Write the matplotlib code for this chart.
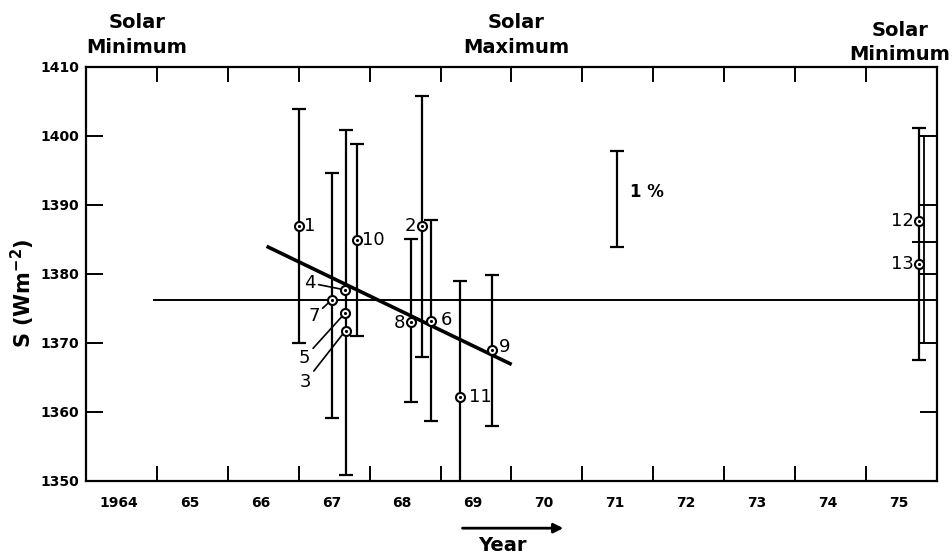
import numpy as np
import matplotlib
matplotlib.use('Agg')
import matplotlib.pyplot as plt
from matplotlib.transforms import blended_transform_factory

labels = ['1', '2', '3', '4', '5', '6', '7', '8', '9', '10', '11', '12', '13']
years = np.array([1967.00, 1968.74, 1967.66, 1967.65, 1967.65, 1968.87, 1967.47,
                  1968.58, 1969.72, 1967.82, 1969.28, 1975.75, 1975.75])
values = np.array([1386.9, 1386.9, 1371.8, 1377.7, 1374.3, 1373.2, 1376.3,
                   1373.1, 1369.0, 1384.9, 1362.1, 1387.7, 1381.5])
err_low = np.array([1370.0, 1368.0, 1350.9, np.nan, np.nan, 1358.7, 1359.1,
                    1361.4, 1357.9, 1371.0, 1345.0, 1367.6, np.nan])
err_high = np.array([1403.9, 1405.8, 1400.8, np.nan, np.nan, 1387.8, 1394.6,
                     1385.1, 1379.9, 1398.9, 1379.0, 1401.2, np.nan])

# regression line through 1966-69 data
trend_years = [1966.57, 1969.98]
trend_values = [1383.9, 1367.0]

# overall mean line
mean_value = 1376.3
mean_start = 1964.95

# 1 % scale bar
pct_year = 1971.49
pct_low = 1383.9
pct_high = 1397.8

# 1975 box edge
box_year = 1975.82
box_low, box_high = 1370.0, 1400.0

year_ticks = list(range(1965, 1976))
year_labels = ['1964', '65', '66', '67', '68', '69', '70', '71', '72', '73', '74', '75']
s_ticks = list(range(1350, 1411, 10))

# label placement (offset points, alignment)
label_pos = {
    '1': (4, 0, 'left'), '2': (-4, 0, 'right'), '3': (-29, -37, 'center'),
    '4': (-25, 5, 'center'), '5': (-29, -32, 'center'), '6': (7, 1, 'left'),
    '7': (-13, -12, 'center'), '8': (-4, -1, 'right'), '9': (5, 2, 'left'),
    '10': (4, 0, 'left'), '11': (6, 0, 'left'), '12': (-4, 0, 'right'),
    '13': (-4, 0, 'right'),
}
leaders = ['3', '4', '5', '7']

fig = plt.figure(figsize=(9.53, 5.60), dpi=100)
ax = fig.add_axes([0.0902, 0.1411, 0.893, 0.7393])
ax.set_xlim(1964, 1976)
ax.set_ylim(1350, 1410)

for sp in ax.spines.values():
    sp.set_linewidth(1.6)

# error bars
has_err = ~np.isnan(err_low)
ax.errorbar(years[has_err], values[has_err],
            yerr=[values[has_err] - err_low[has_err], err_high[has_err] - values[has_err]],
            fmt='none', ecolor='black', elinewidth=1.6, capsize=5, capthick=1.6, zorder=3)

# lines
ax.plot(trend_years, trend_values, color='black', lw=2.6, zorder=4)
ax.hlines(mean_value, mean_start, 1976, color='black', lw=1.4, zorder=2)
ax.vlines(box_year, box_low, box_high, color='black', lw=1.3, zorder=2)
ax.hlines((values[11] + values[12]) / 2, 1975.65, 1976, color='black', lw=1.4, zorder=2)

# points
ax.plot(years, values, 'o', ms=6.5, mfc='white', mec='black', mew=1.5, zorder=5)
ax.plot(years, values, '.', ms=2.5, color='black', zorder=6)

for lab, x, y in zip(labels, years, values):
    dx, dy, ha = label_pos[lab]
    arrow = None
    if lab in leaders:
        arrow = dict(arrowstyle='-', lw=1.2, color='black', shrinkA=0, shrinkB=3.5)
    ax.annotate(lab, xy=(x, y), xytext=(dx, dy), textcoords='offset points',
                ha=ha, va='center', fontsize=13, arrowprops=arrow, zorder=7)

# 1 % bar
ax.errorbar([pct_year], [(pct_low + pct_high) / 2], yerr=[[(pct_high - pct_low) / 2], [(pct_high - pct_low) / 2]],
            fmt='none', ecolor='black', elinewidth=1.6, capsize=5, capthick=1.6)
ax.annotate('1 %', xy=(pct_year, (pct_low + pct_high) / 2 + 1), xytext=(9, 0),
            textcoords='offset points', ha='left', va='center', fontsize=12, fontweight='bold')

# ticks
ax.set_xticks(year_ticks)
ax.set_xticklabels([])
ax.set_xticks([y + 0.46 for y in range(1964, 1976)], labels=year_labels, minor=True,
              fontsize=10, fontweight='bold')
ax.tick_params(axis='x', which='major', direction='in', length=11, width=1.4, top=True, bottom=True)
ax.tick_params(axis='x', which='minor', length=0, pad=11)
ax.set_yticks(s_ticks, labels=[str(v) for v in s_ticks], fontsize=10, fontweight='bold')
ax.tick_params(axis='y', direction='in', length=12, width=1.4, left=True, right=True, pad=5)

xtrans = blended_transform_factory(ax.transData, ax.transAxes)

# solar cycle annotations
ax.text(1964.72, 1.077, 'Solar\nMinimum', transform=xtrans, ha='center', va='center',
        fontsize=14, fontweight='bold', linespacing=1.45)
ax.text(1970.07, 1.077, 'Solar\nMaximum', transform=xtrans, ha='center', va='center',
        fontsize=14, fontweight='bold', linespacing=1.45)
ax.text(1975.48, 1.059, 'Solar\nMinimum', transform=xtrans, ha='center', va='center',
        fontsize=14, fontweight='bold', linespacing=1.3)

# axis titles
fig.text(23 / 953, 1 - 293 / 560, r'S (Wm$^{\mathbf{-2}}$)', rotation=90, ha='center', va='center',
         fontsize=15, fontweight='bold')
ax.annotate('', xy=(1970.77, -0.114), xytext=(1969.27, -0.114), xycoords=xtrans, textcoords=xtrans,
            arrowprops=dict(arrowstyle='-|>', lw=2, color='black', mutation_scale=14),
            annotation_clip=False)
ax.text(1969.87, -0.155, 'Year', transform=xtrans, ha='center', va='center',
        fontsize=14, fontweight='bold')

fig.savefig('out.png', dpi=100)
